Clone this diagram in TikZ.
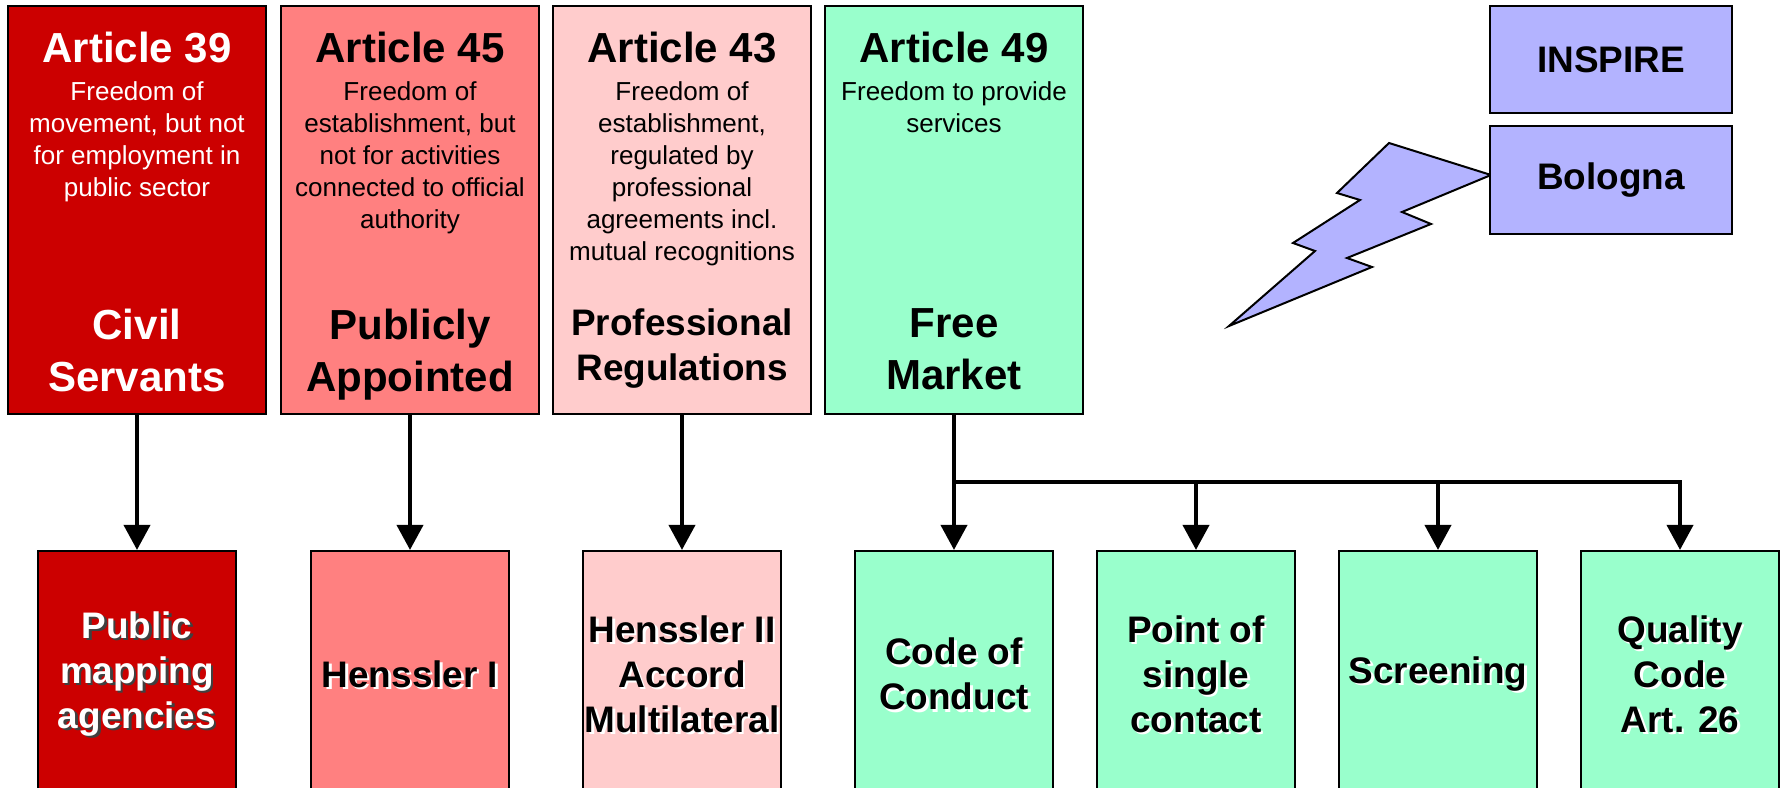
\documentclass[tikz,border=0pt]{standalone}
\usepackage{fontspec}
\setmainfont{Liberation Sans}
\usepackage{xcolor}
\usepackage{tikz}
\usetikzlibrary{arrows.meta, positioning}

\definecolor{artred}{HTML}{CC0000}
\definecolor{artsalmon}{HTML}{FF8080}
\definecolor{artpink}{HTML}{FFCCCC}
\definecolor{artmint}{HTML}{99FFCC}
\definecolor{lilac}{HTML}{B3B3FF}

\newcommand{\hdfont}{\fontsize{11.95}{14.8}\selectfont\bfseries}
\newcommand{\dsfont}{\fontsize{7.4}{9.1}\selectfont}
\newcommand{\mdfont}{\fontsize{10.5}{12.8}\selectfont\bfseries}

\begin{document}
\begin{tikzpicture}[x=0.01cm, y=-0.01cm,
  artbox/.style={draw, line width=0.02cm, minimum width=2.58cm, minimum height=4.08cm, inner sep=0pt},
  subbox/.style={draw, line width=0.02cm, minimum width=1.97cm, minimum height=2.46cm, inner sep=0pt},
  subtext/.style={align=center, font=\mdfont, inner sep=0pt},
  shadetext/.style n args={3}{label={[subtext, text=#3, xshift=0.025cm, yshift=-0.025cm]center:{#1}},
    label={[subtext, text=#2]center:{#1}}},
  dirbox/.style={draw, fill=lilac, line width=0.02cm, minimum width=2.42cm, minimum height=1.07cm, font=\mdfont},
  head/.style={font=\hdfont, inner sep=0pt, anchor=base},
  desc/.style={font=\dsfont, align=center, inner sep=0pt, anchor=north},
  title/.style={font=\hdfont, align=center, inner sep=0pt, anchor=north},
  link/.style={line width=0.04cm, -{Triangle[length=0.25cm, width=0.26cm]}}]
  \useasboundingbox (0,0) rectangle (1781,788);
  \clip (0,0) rectangle (1781,788);

  \node[artbox, fill=artred] (a39) at (137,210) {};
  \node[head, text=white] (h39) at (137,63) {Article 39};
  \node[desc, text=white] (d39) at (137,81) {Freedom of\\movement, but not\\for employment in\\public sector};
  \node[title, text=white] (t39) at (137,308) {Civil\\Servants};

  \node[artbox, fill=artsalmon] (a45) at (410,210) {};
  \node[head] (h45) at (410,63) {Article 45};
  \node[desc] (d45) at (410,81) {Freedom of\\establishment, but\\not for activities\\connected to official\\authority};
  \node[title] (t45) at (410,308) {Publicly\\Appointed};

  \node[artbox, fill=artpink] (a43) at (682,210) {};
  \node[head] (h43) at (682,63) {Article 43};
  \node[desc] (d43) at (682,81) {Freedom of\\establishment,\\regulated by\\professional\\agreements incl.\\mutual recognitions};
  \node[title, font=\mdfont] (t43) at (682,308) {Professional\\Regulations};

  \node[artbox, fill=artmint] (a49) at (954,210) {};
  \node[head] (h49) at (954,63) {Article 49};
  \node[desc] (d49) at (954,81) {Freedom to provide\\services};
  \node[title] (t49) at (954,308) {Free\\Market};

  \node[subbox, fill=artred, shadetext={Public\\mapping\\agencies}{white}{black!75}] (b39) at (137,674) {};
  \node[subbox, fill=artsalmon, shadetext={Henssler I}{black}{white}] (b45) at (410,674) {};
  \node[subbox, fill=artpink, shadetext={Henssler II\\Accord\\Multilateral}{black}{white}] (b43) at (682,674) {};
  \node[subbox, fill=artmint, shadetext={Code of\\Conduct}{black}{white}] (b49a) at (954,674) {};
  \node[subbox, fill=artmint, shadetext={Point of\\single\\contact}{black}{white}] (b49b) at (1196,674) {};
  \node[subbox, fill=artmint, shadetext={Screening}{black}{white}] (b49c) at (1438,674) {};
  \node[subbox, fill=artmint, shadetext={Quality\\Code\\Art. 26}{black}{white}] (b49d) at (1680,674) {};

  \draw[fill=lilac, line width=0.02cm] (1491,175) -- (1402,212) -- (1431,224) -- (1347,258) -- (1372,267) -- (1229,326)
    -- (1315,251) -- (1293,243) -- (1360,200) -- (1337,193) -- (1389,143) -- cycle;
  \node[dirbox] (insp) at (1611,59.5) {INSPIRE};
  \node[dirbox] (bol) at (1611,180) {Bologna};

  \coordinate (bus) at (954,482);
  \draw[link] (a39.south) -- (b39.north);
  \draw[link] (a45.south) -- (b45.north);
  \draw[link] (a43.south) -- (b43.north);
  \draw[link] (a49.south) -- (b49a.north);
  \draw[link] (bus) -| (b49d.north);
  \draw[link] (b49b.north |- bus) -- (b49b.north);
  \draw[link] (b49c.north |- bus) -- (b49c.north);
\end{tikzpicture}
\end{document}
